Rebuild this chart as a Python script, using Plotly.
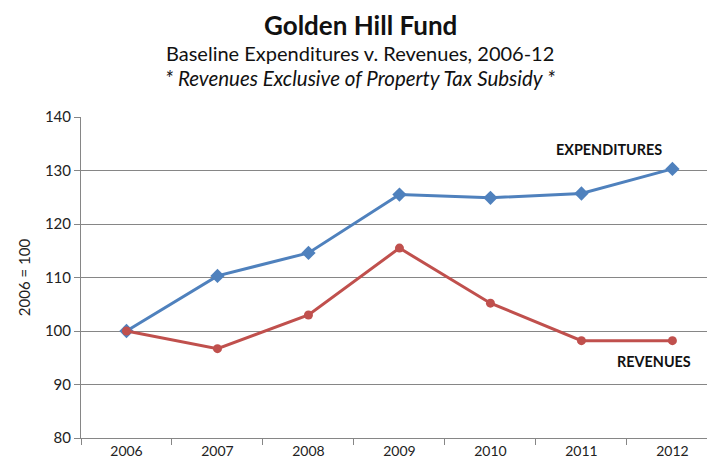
import plotly.graph_objects as go

years = ["2006", "2007", "2008", "2009", "2010", "2011", "2012"]
expenditures = [100, 110.3, 114.6, 125.5, 124.9, 125.7, 130.3]
revenues = [100, 96.7, 103.0, 115.5, 105.2, 98.2, 98.2]
y_ticks = [80, 90, 100, 110, 120, 130, 140]

FONT = "Lato"

fig = go.Figure()
fig.add_trace(go.Scatter(
    x=years, y=expenditures, mode="lines+markers", name="EXPENDITURES",
    line=dict(color="#4F81BD", width=3),
    marker=dict(symbol="diamond", size=11, color="#4F81BD"),
))
fig.add_trace(go.Scatter(
    x=years, y=revenues, mode="lines+markers", name="REVENUES",
    line=dict(color="#C0504D", width=3),
    marker=dict(symbol="circle", size=9, color="#C0504D"),
))

fig.add_annotation(x=5.30, y=134.0, text="<b>EXPENDITURES</b>", showarrow=False,
                   font=dict(family=FONT, size=14.4, color="#111"))
fig.add_annotation(x=5.80, y=94.3, text="<b>REVENUES</b>", showarrow=False,
                   font=dict(family=FONT, size=14.4, color="#111"))

TX = 0.4457
fig.add_annotation(xref="paper", yref="paper", x=TX, y=1.0, yshift=92, yanchor="middle",
                   text="<b>Golden Hill Fund</b>", showarrow=False,
                   font=dict(family=FONT, size=26, color="#111"))
fig.add_annotation(xref="paper", yref="paper", x=TX, y=1.0, yshift=64, yanchor="middle",
                   text="Baseline Expenditures v. Revenues, 2006-12", showarrow=False,
                   font=dict(family=FONT, size=20, color="#111"))
fig.add_annotation(xref="paper", yref="paper", x=TX, y=1.0, yshift=39, yanchor="middle",
                   text="<i>* Revenues Exclusive of Property Tax Subsidy *</i>", showarrow=False,
                   font=dict(family=FONT, size=20.5, color="#111"))

fig.update_layout(
    width=707, height=467,
    margin=dict(l=81, r=0, t=117, b=29),
    paper_bgcolor="white", plot_bgcolor="white",
    showlegend=False,
    font=dict(family=FONT, size=14, color="#222"),
    xaxis=dict(
        type="category", range=[-0.5, 6.38],
        showgrid=False, showline=True, linecolor="#868686", linewidth=1,
        ticks="outside", tickson="boundaries", ticklen=6, tickcolor="#868686",
        tickfont=dict(family=FONT, size=14, color="#222"),
    ),
    yaxis=dict(
        range=[80, 140], tickvals=y_ticks,
        showgrid=True, gridcolor="#868686", gridwidth=1,
        showline=True, linecolor="#868686", linewidth=1,
        ticks="outside", ticklen=6, tickcolor="#868686",
        tickfont=dict(family=FONT, size=15, color="#222"),
        title=dict(text="2006 = 100", font=dict(family=FONT, size=15, color="#222"), standoff=10),
        zeroline=False,
    ),
)

fig.write_html("out.html")
